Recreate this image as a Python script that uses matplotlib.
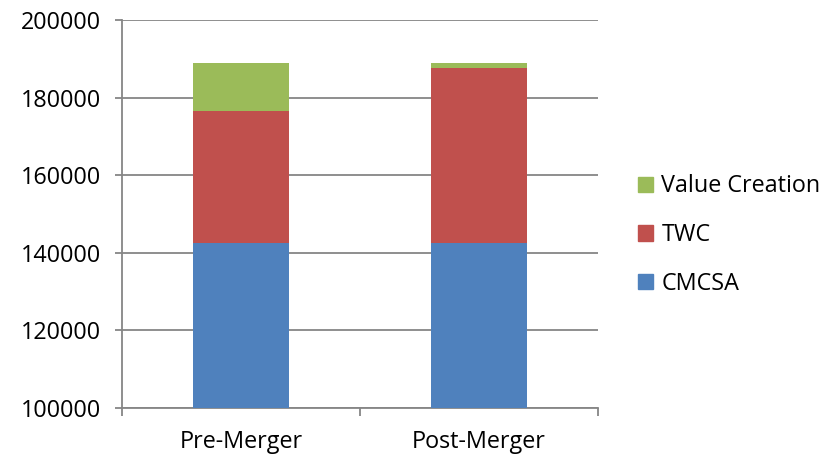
import matplotlib.pyplot as plt
from matplotlib.patches import Patch

categories = ["Pre-Merger", "Post-Merger"]
cmcsa = [142450, 142450]
twc = [34100, 45100]
value_creation = [12300, 1300]

colors = {"CMCSA": "#4F81BD", "TWC": "#C0504D", "Value Creation": "#9BBB59"}
grid_color = "#868686"

plt.rcParams["font.family"] = ["Open Sans", "DejaVu Sans"]

fig = plt.figure(figsize=(8.34, 4.55), dpi=100)
ax = fig.add_axes([122 / 834, 1 - 408 / 455, 476 / 834, 388 / 455])

x = list(range(len(categories)))
bottom2 = [a + b for a, b in zip(cmcsa, twc)]
ax.bar(x, cmcsa, width=0.4, color=colors["CMCSA"], zorder=3)
ax.bar(x, twc, width=0.4, bottom=cmcsa, color=colors["TWC"], zorder=3)
ax.bar(x, value_creation, width=0.4, bottom=bottom2, color=colors["Value Creation"], zorder=3)

ax.set_xlim(-0.5, len(categories) - 0.5)
ax.set_ylim(100000, 200000)
ax.set_yticks(range(100000, 200001, 20000))
ax.yaxis.grid(True, color=grid_color, linewidth=1.3, zorder=0)

# category boundaries as major ticks, labels on minor ticks
ax.set_xticks([-0.5, 0.5, 1.5])
ax.set_xticklabels([])
ax.set_xticks(x, minor=True)
ax.set_xticklabels(categories, minor=True)
ax.tick_params(axis="x", which="major", length=6, width=1.3, color=grid_color, direction="out")
ax.tick_params(axis="x", which="minor", length=0, pad=16, labelsize=16.8)
ax.tick_params(axis="y", length=5, width=1.3, color=grid_color, pad=10, labelsize=16.8)

for side in ["top", "right"]:
    ax.spines[side].set_visible(False)
for side in ["left", "bottom"]:
    ax.spines[side].set_color(grid_color)
    ax.spines[side].set_linewidth(1.3)

handles = [Patch(color=colors[k]) for k in ["Value Creation", "TWC", "CMCSA"]]
fig.legend(handles, ["Value Creation", "TWC", "CMCSA"], loc="center left",
           bbox_to_anchor=(638 / 834, 1 - 235 / 455), frameon=False, fontsize=16.8,
           handlelength=0.65, handleheight=0.65, handletextpad=0.35,
           labelspacing=1.05, borderpad=0, borderaxespad=0)

fig.savefig("out.png", dpi=100)
